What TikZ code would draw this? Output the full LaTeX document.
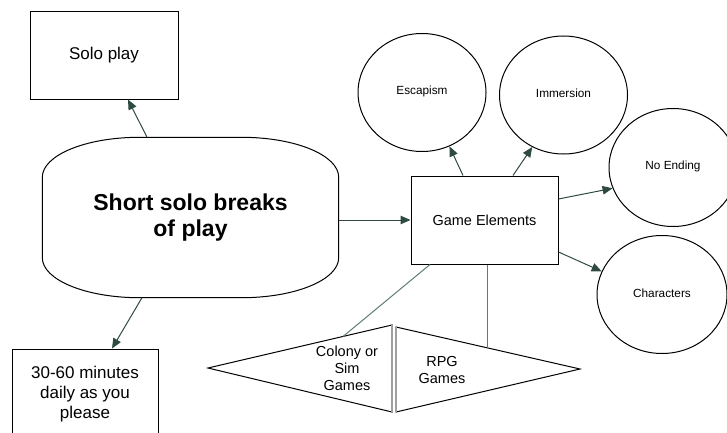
\documentclass[tikz,border=0pt]{standalone}
\usepackage{fontspec}
\setmainfont{Liberation Sans}
\usetikzlibrary{arrows.meta,shapes.geometric,calc}
\definecolor{arrowgreen}{HTML}{2E4A43}
\definecolor{linegreen}{HTML}{5E7B74}

\begin{document}
\begin{tikzpicture}[x=1pt,y=1pt,
    box/.style={draw,line width=1pt,minimum width=148,minimum height=87,align=center},
    bubble/.style={draw,ellipse,line width=1pt,minimum width=128,minimum height=118,
        font=\fontsize{11.8}{14}\selectfont},
    link/.style={draw=arrowgreen,line width=1pt,-{Triangle[length=10pt,width=8.5pt]}},
    plain/.style={draw=linegreen,line width=1pt},
    tri/.style={draw,line width=1pt,line join=miter},
    split/.style={draw=gray!75,line width=2.2pt}]
    \useasboundingbox (0,0) rectangle (727,432); % page size

    % Left part: the main idea
    \node[draw=none,minimum width=296,minimum height=160,align=center,
        font=\fontsize{23}{26}\bfseries\selectfont] (main) at (190.5,214.5) {Short solo breaks\\of play};
    \draw[line width=1pt] ([xshift=97]main.north west) -- ([xshift=-97]main.north east)
        arc[start angle=90,end angle=0,x radius=97,y radius=40] -- ([yshift=40]main.south east)
        arc[start angle=0,end angle=-90,x radius=97,y radius=40] -- ([xshift=97]main.south west)
        arc[start angle=270,end angle=180,x radius=97,y radius=40] -- ([yshift=-40]main.north west)
        arc[start angle=180,end angle=90,x radius=97,y radius=40]; % rounded outline
    \node[box,font=\fontsize{17}{20}\selectfont] (solo) at (104,376.5) {Solo play};
    \node[box,minimum width=146,minimum height=90,font=\fontsize{17}{20}\selectfont] (daily) at (85,38)
        {30-60 minutes\\daily as you\\please};

    % Right part: game elements
    \node[box,minimum width=147,minimum height=88,font=\fontsize{14.5}{17}\selectfont] (game) at (484.5,212) {Game Elements};
    \node[bubble] (escape) at (422,339.5) {\raisebox{4pt}{Escapism}};
    \node[bubble] (immerse) at (563.5,337) {\raisebox{4pt}{Immersion}};
    \node[bubble] (noend) at (673,264.5) {\raisebox{4pt}{No Ending}};
    \node[bubble,minimum width=130] (chars) at (662,137.5) {\raisebox{2pt}{Characters}};

    % Genres
    \coordinate (cTip) at (208,64);
    \coordinate (cTop) at (392,107);
    \coordinate (cBot) at (392,20);
    \coordinate (rTop) at (396,105);
    \coordinate (rBot) at (396,20);
    \coordinate (rTip) at (580,63);
    \draw[tri] (cTip) -- (cTop) -- (cBot) -- cycle; % colony triangle
    \draw[tri] (rTip) -- (rTop) -- (rBot) -- cycle; % rpg triangle
    \draw[split] (cTop) -- (cBot);
    \draw[split] (rTop) -- (rBot);
    \node[align=center,font=\fontsize{14.5}{17}\selectfont] (colony) at (347,64) {Colony or\\Sim\\Games};
    \node[align=center,font=\fontsize{14.5}{17}\selectfont] (rpg) at (442,62) {RPG\\Games};
    \coordinate (cHit) at ($(cTip)!0.734!(cTop)$);
    \coordinate (rHit) at ($(rTip)!0.505!(rTop)$);

    % Arrows
    \draw[link] ([xshift=-43.5]main.north) -- ([xshift=24]solo.south);
    \draw[link] ([xshift=-48.5]main.south) -- ([xshift=27]daily.north);
    \draw[link] (main.east |- game.west) -- (game.west);
    \draw[link] ([xshift=-21.5]game.north) -- (escape.-63);
    \draw[link] ([xshift=28.5]game.north) -- (immerse.-121);
    \draw[link] ([yshift=21]game.east) -- (noend.-161);
    \draw[link] ([yshift=-32]game.east) -- (chars.159);
    \draw[plain] ([xshift=-54.5]game.south) -- (cHit);
    \draw[plain] (game.south -| rHit) -- (rHit);
\end{tikzpicture}
\end{document}
